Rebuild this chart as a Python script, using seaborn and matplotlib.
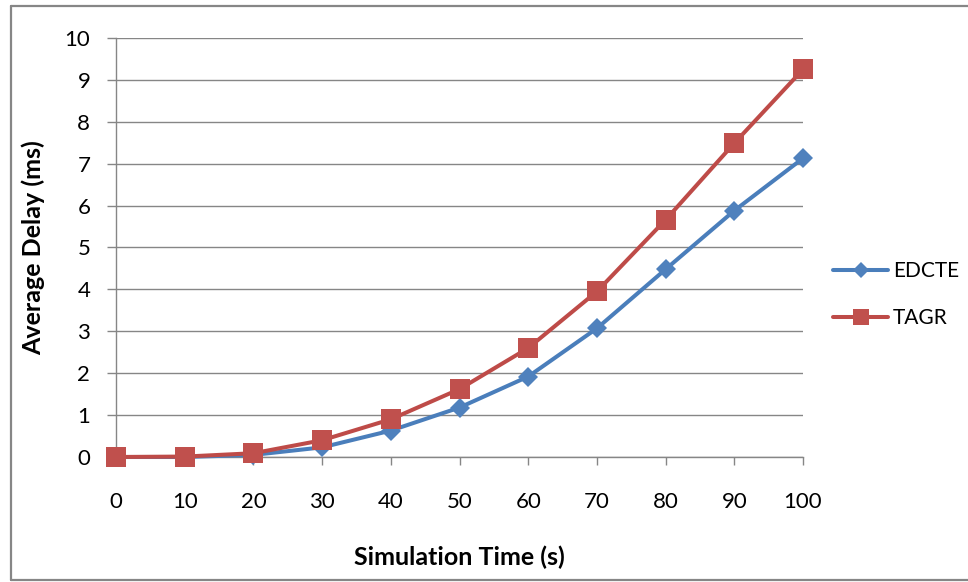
import matplotlib

matplotlib.use("Agg")
import matplotlib.pyplot as plt
import pandas as pd
import seaborn as sns
from matplotlib.lines import Line2D

sim_time = [0, 10, 20, 30, 40, 50, 60, 70, 80, 90, 100]
edcte_delay = [0.0, 0.0, 0.05, 0.23, 0.63, 1.18, 1.92, 3.07, 4.48, 5.88, 7.13]
tagr_delay = [0.0, 0.01, 0.09, 0.40, 0.90, 1.62, 2.60, 3.95, 5.66, 7.49, 9.25]
series_names = ["EDCTE", "TAGR"]
y_ticks = list(range(0, 11))

GRID = "#868686"
LINE_COLORS = {"EDCTE": "#4A7EBB", "TAGR": "#BE4B48"}
FACE_COLORS = {"EDCTE": "#4F81BD", "TAGR": "#C0504D"}
MARKERS = {"EDCTE": "D", "TAGR": "s"}
MARKER_SIZES = {"EDCTE": 10, "TAGR": 14}


def build_frame() -> pd.DataFrame:
    frames = []
    for name, values in zip(series_names, [edcte_delay, tagr_delay]):
        frames.append(pd.DataFrame({"time": sim_time, "delay": values, "protocol": name}))
    return pd.concat(frames, ignore_index=True)


def main() -> None:
    sns.set_style("white")
    plt.rcParams["font.family"] = ["Lato", "DejaVu Sans"]
    plt.rcParams["text.color"] = "black"
    plt.rcParams["axes.labelcolor"] = "black"
    plt.rcParams["xtick.labelcolor"] = "black"
    plt.rcParams["ytick.labelcolor"] = "black"

    df = build_frame()
    fig = plt.figure(figsize=(9.68, 5.82), dpi=100)
    ax = fig.add_axes([116 / 968, 1 - 457 / 582, (803 - 116) / 968, (457 - 38) / 582])

    sns.lineplot(
        data=df, x="time", y="delay", hue="protocol", style="protocol",
        palette=LINE_COLORS, markers=MARKERS, dashes=False, ax=ax,
        linewidth=2.9, markeredgewidth=0, legend=False, clip_on=False, zorder=3,
    )
    for line in ax.lines:
        name = "TAGR" if line.get_marker() == "s" else "EDCTE"
        line.set_markersize(MARKER_SIZES[name])
        line.set_markerfacecolor(FACE_COLORS[name])

    ax.set_xlim(0, 100)
    ax.set_ylim(0, 10)
    ax.set_xticks(sim_time)
    ax.set_yticks(y_ticks)
    ax.yaxis.grid(True, color=GRID, linewidth=1.0)
    ax.set_axisbelow(True)
    for side in ["top", "right"]:
        ax.spines[side].set_visible(False)
    for side in ["left", "bottom"]:
        ax.spines[side].set_color(GRID)
        ax.spines[side].set_linewidth(1.0)
    ax.tick_params(axis="y", left=True, length=6.5, width=1.0, color=GRID, pad=12,
                   labelsize=16, labelcolor="black")
    ax.tick_params(axis="x", bottom=True, length=6, width=1.0, color=GRID, pad=19,
                   labelsize=16, labelcolor="black")

    ax.set_xlabel("Simulation Time (s)", fontsize=18, fontweight="bold", labelpad=24, color="black")
    ax.set_ylabel("Average Delay (ms)", fontsize=18, fontweight="bold", labelpad=14, color="black")

    handles = [
        Line2D([], [], color=LINE_COLORS[n], linewidth=2.9, marker=MARKERS[n],
               markersize=MARKER_SIZES[n] - 2, markeredgewidth=0, markerfacecolor=FACE_COLORS[n])
        for n in series_names
    ]
    fig.legend(handles, series_names, loc="center left", bbox_to_anchor=(833 / 968, 1 - 294.5 / 582),
               frameon=False, fontsize=15, handlelength=2.64, handletextpad=0.24,
               labelspacing=1.3, borderpad=0, borderaxespad=0, labelcolor="black")

    # chart-area border (open on the right, as in the reference crop)
    for xs, ys in [([11, 11], [6, 580]), ([11, 968], [6, 6]), ([11, 968], [580, 580])]:
        fig.add_artist(Line2D([x / 968 for x in xs], [1 - y / 582 for y in ys],
                              transform=fig.transFigure, color=GRID, linewidth=1.6))

    fig.savefig("out.png", dpi=100)
    plt.close(fig)


if __name__ == "__main__":
    main()
